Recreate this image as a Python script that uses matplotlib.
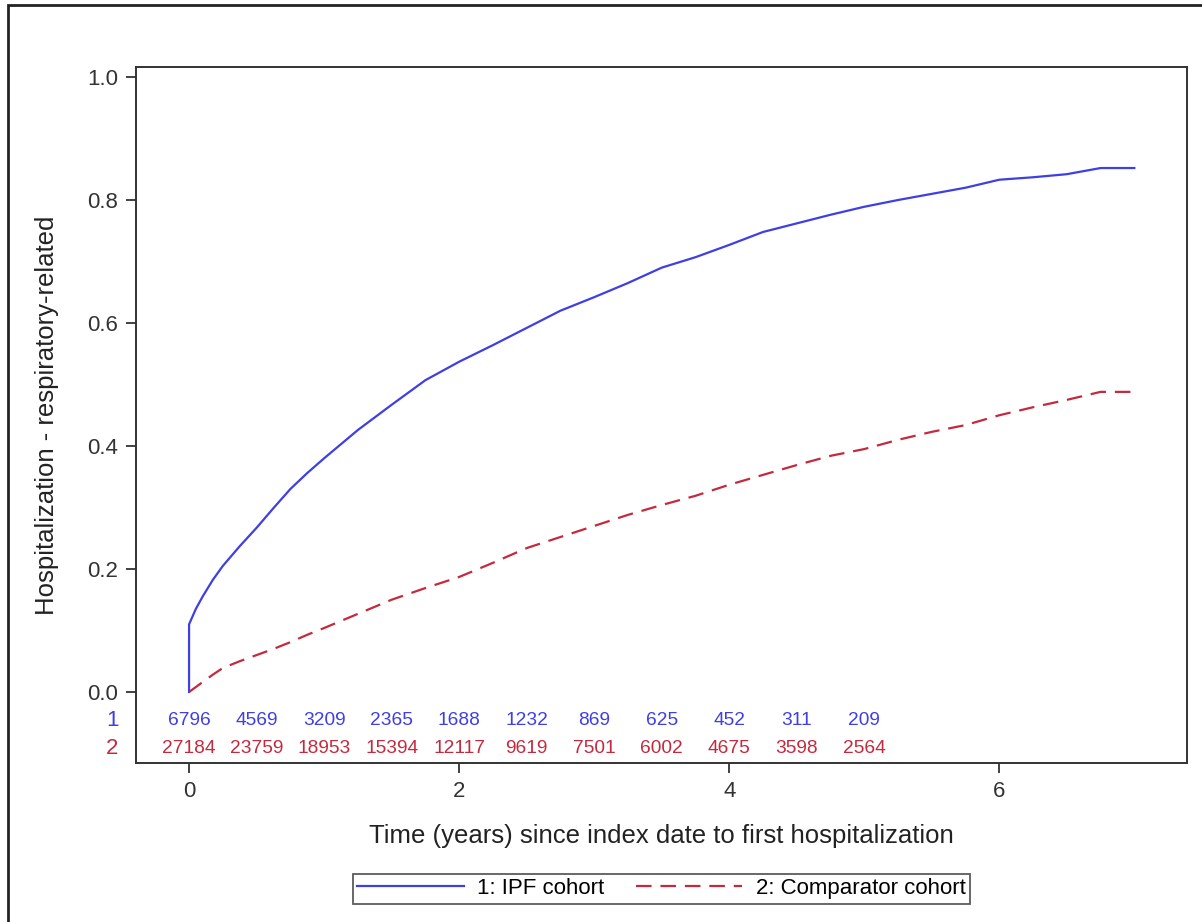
import numpy as np
import matplotlib.pyplot as plt
from matplotlib.patches import Rectangle

plt.rcParams['font.family'] = ['Liberation Sans', 'DejaVu Sans']

# cumulative incidence
t = [0, 0, 0.05, 0.1, 0.175, 0.25, 0.375, 0.5, 0.625, 0.75, 0.875, 1.0, 1.25, 1.5,
     1.75, 2.0, 2.25, 2.5, 2.75, 3.0, 3.25, 3.5, 3.75, 4.0, 4.25, 4.5, 4.75, 5.0,
     5.25, 5.5, 5.75, 6.0, 6.25, 6.5, 6.75, 7.0]
ipf = [0, 0.11, 0.135, 0.155, 0.182, 0.205, 0.237, 0.267, 0.299, 0.33, 0.356, 0.38,
       0.426, 0.467, 0.507, 0.537, 0.564, 0.592, 0.62, 0.642, 0.665, 0.69, 0.707,
       0.727, 0.748, 0.762, 0.776, 0.789, 0.8, 0.81, 0.82, 0.833, 0.837, 0.842,
       0.852, 0.852]
comp = [0, 0, 0.008, 0.016, 0.028, 0.039, 0.05, 0.06, 0.07, 0.081, 0.093, 0.104,
        0.127, 0.15, 0.169, 0.187, 0.21, 0.234, 0.252, 0.27, 0.288, 0.304, 0.319,
        0.337, 0.353, 0.369, 0.384, 0.395, 0.41, 0.423, 0.434, 0.45, 0.463, 0.475,
        0.488, 0.488]

risk_t = [0, 0.5, 1.0, 1.5, 2.0, 2.5, 3.0, 3.5, 4.0, 4.5, 5.0]
risk_ipf = [6796, 4569, 3209, 2365, 1688, 1232, 869, 625, 452, 311, 209]
risk_comp = [27184, 23759, 18953, 15394, 12117, 9619, 7501, 6002, 4675, 3598, 2564]

blue = '#3f3fe3'
red = '#c42a3e'

fig = plt.figure(figsize=(12.02, 9.22), dpi=100)
ax = fig.add_axes([136/1202, 1 - 763/922, (1187-136)/1202, (763-67)/922])

ax.plot(t, ipf, color=blue, lw=1.6, label='1: IPF cohort')
ax.plot(t, comp, color=red, lw=1.6, dashes=(7, 4), label='2: Comparator cohort')

ax.set_xlim(-0.393, 7.39)
ax.set_ylim(-0.1155, 1.0163)
ax.set_xticks([0, 2, 4, 6])
ax.set_xticklabels(['0', '2', '4', '6'])
ax.set_yticks([0, 0.2, 0.4, 0.6, 0.8, 1.0])
ax.set_yticklabels(['0.0', '0.2', '0.4', '0.6', '0.8', '1.0'])
ax.tick_params(labelsize=16, length=7, width=1.3, color='#333333', labelcolor='#333333', pad=6)
for s in ax.spines.values():
    s.set_linewidth(1.4)
    s.set_color('#333333')

# numbers at risk
for x, a, b in zip(risk_t, risk_ipf, risk_comp):
    ax.text(x, -0.0465, str(a), color=blue, fontsize=13.8, ha='center', va='center')
    ax.text(x, -0.092, str(b), color=red, fontsize=13.8, ha='center', va='center')
ax.text(-0.57, -0.0465, '1', color=blue, fontsize=16, ha='center', va='center', clip_on=False)
ax.text(-0.57, -0.092, '2', color=red, fontsize=16, ha='center', va='center', clip_on=False)

ax.set_xlabel('Time (years) since index date to first hospitalization', fontsize=18.5,
              color='#222222', labelpad=16)
ax.set_ylabel('Hospitalization - respiratory-related', fontsize=18.5, color='#222222',
              labelpad=20)

leg = ax.legend(loc='upper center', bbox_to_anchor=(0.5, -0.143), ncol=2, fontsize=16,
                frameon=True, fancybox=False, handlelength=4.8, columnspacing=1.4,
                borderpad=0.2, handletextpad=0.6)
leg.get_frame().set_edgecolor('#333333')
leg.get_frame().set_linewidth(1.3)

# outer frame, cut off at right and bottom
fig.patches.append(Rectangle((8/1202, -0.05), 1.1, 1 - 5/922 + 0.05, transform=fig.transFigure,
                             fill=False, edgecolor='#222222', lw=2))

fig.savefig('out.png', dpi=100)
